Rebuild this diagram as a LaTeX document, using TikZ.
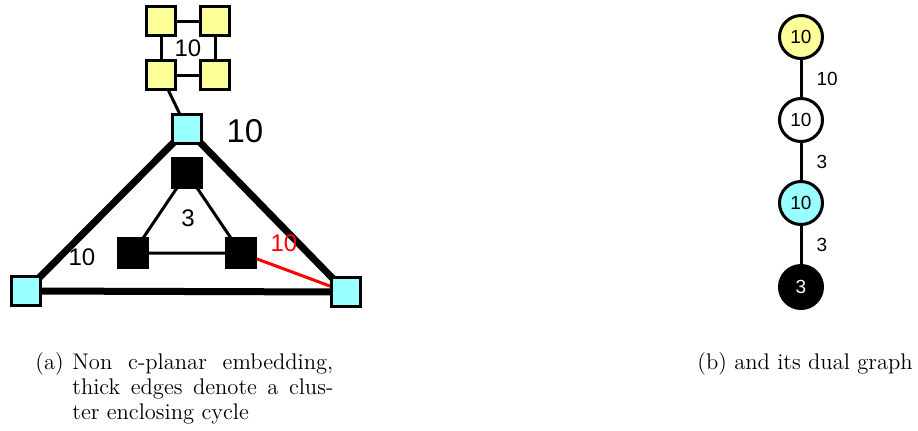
\documentclass[tikz,border=0pt]{standalone}
\usepackage{fontspec}
\newfontfamily\arial{Liberation Sans}
\usetikzlibrary{backgrounds}
\definecolor{pyellow}{RGB}{255,255,153}
\definecolor{pcyan}{RGB}{153,255,255}
\begin{document}
\begin{tikzpicture}[x=0.5pt,y=-0.5pt,
  sq/.style={draw=black,line width=1.7pt,minimum size=14.5pt,inner sep=0pt,fill=#1},
  blk/.style={fill=black,draw=black,minimum size=15.5pt,inner sep=0pt},
  dual/.style={circle,draw=black,line width=1.5pt,minimum size=21.5pt,inner sep=0pt,fill=#1,font=\arial\fontsize{9.5}{11}\selectfont},
  thinedge/.style={line width=1.5pt},
  thickedge/.style={line width=3.5pt},
  lbl/.style={font=\arial\fontsize{12}{14}\selectfont,inner sep=0pt},
  elbl/.style={font=\arial\fontsize{9.5}{11}\selectfont,inner sep=0pt},
  captxt/.style={inner sep=0pt,anchor=base west,font=\fontsize{11.3}{13.6}\selectfont}]
\useasboundingbox (0,0) rectangle (918,430);
% left graph
\node[sq=pyellow] (y1) at (161,21) {};
\node[sq=pyellow] (y2) at (215,21) {};
\node[sq=pyellow] (y3) at (161,75) {};
\node[sq=pyellow] (y4) at (215,75) {};
\node[sq=pcyan] (ct) at (187,129) {};
\node[sq=pcyan] (cl) at (26,291) {};
\node[sq=pcyan] (cr) at (346,292) {};
\node[blk] (bt) at (187,173) {};
\node[blk] (bl) at (133,253) {};
\node[blk] (br) at (241,253) {};
\node[lbl] (ly) at (188,48) {10};
\node[lbl,font=\arial\fontsize{16.5}{19}\selectfont] (lbig) at (245,131) {10};
\node[lbl] (l3) at (188,218) {3};
\node[lbl] (l10) at (82,257) {10};
\node[lbl,text=red] (lred) at (284,243) {10};
\begin{pgfonlayer}{background}
\draw[thinedge] (y1.center) -- (y2.center) -- (y4.center) -- (y3.center) -- cycle;
\draw[thinedge] (y3.center) -- (ct.center);
\draw[thickedge] (ct.center) -- (cl.center) -- (cr.center) -- cycle;
\draw[thinedge] (bt.center) -- (bl.center) -- (br.center) -- cycle;
\draw[thinedge,red] (br.center) -- (cr.center);
\end{pgfonlayer}
% dual graph
\node[dual=pyellow] (d1) at (801,37) {10};
\node[dual=white] (d2) at (801,120) {10};
\node[dual=pcyan] (d3) at (801,203) {10};
\node[dual=black,text=white] (d4) at (801,287) {3};
\draw[thinedge] (d1) -- node[elbl,right=7pt] (e1) {10} (d2);
\draw[thinedge] (d2) -- node[elbl,right=7pt] (e2) {3} (d3);
\draw[thinedge] (d3) -- node[elbl,right=7pt] (e3) {3} (d4);
% captions
\node[captxt] (ca) at (35,369) {(a)};
\node[captxt] (ca1) at (72,369) {\makebox[130.5pt][s]{Non c-planar embedding,}};
\node[captxt] (ca2) at (72,394) {\makebox[130.5pt][s]{thick edges denote a clus-}};
\node[captxt] (ca3) at (72,419) {ter enclosing cycle};
\node[captxt] (cb) at (697,369) {(b) and its dual graph};
\end{tikzpicture}
\end{document}
